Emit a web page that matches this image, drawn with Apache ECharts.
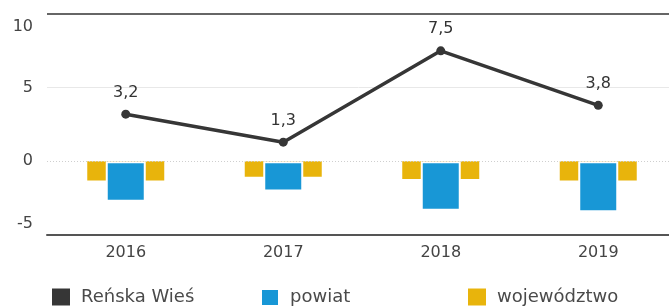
<!DOCTYPE html>
<html>
<head>
<meta charset="utf-8">
<script src="https://cdn.jsdelivr.net/npm/echarts@6/dist/echarts.min.js"></script>
<style>
  html, body { margin: 0; padding: 0; background: #fff; }
  #chart { width: 669px; height: 307px; }
</style>
</head>
<body>
<div id="chart"></div>
<script>
// data
const years = ['2016', '2017', '2018', '2019']
const renskaWies = [3.2, 1.3, 7.5, 3.8]
const powiat = [-2.75, -2.05, -3.35, -3.45]
const wojewodztwo = [-1.3, -1.05, -1.2, -1.3]
const yTicks = { min: -5, max: 10, interval: 5 }

const font = 'DejaVu Sans'
const comma = v => String(v).replace('.', ',')

const chart = echarts.init(document.getElementById('chart'))

function legendAt(name, left) {
  return {
    data: [name],
    left: left,
    top: 283,
    icon: 'rect',
    itemWidth: 18,
    itemHeight: 17,
    selectedMode: false,
    textStyle: { fontFamily: font, fontSize: 18, color: '#4a4a4a', padding: [0, 0, 0, 6] }
  }
}

chart.setOption({
  animation: false,
  grid: { left: 47, right: -8, top: 14, bottom: 72, containLabel: false, outerBoundsMode: 'none' },
  legend: [
    legendAt('Reńska Wieś', 47),
    legendAt('powiat', 255),
    legendAt('województwo', 463)
  ],
  xAxis: [
    {
      type: 'category',
      data: years,
      axisLine: { onZero: false, lineStyle: { color: '#555', width: 2 } },
      axisTick: { show: false },
      axisLabel: { fontFamily: font, fontSize: 16, color: '#444', margin: 10 }
    },
    {
      type: 'category',
      data: years,
      show: false
    }
  ],
  yAxis: {
    type: 'value',
    min: yTicks.min,
    max: yTicks.max,
    interval: yTicks.interval,
    axisLine: { show: false },
    axisTick: { show: false },
    axisLabel: {
      fontFamily: font,
      fontSize: 16,
      color: '#444',
      margin: 14,
      verticalAlignMaxLabel: 'top',
      verticalAlignMinLabel: 'bottom',
      formatter: v => (v === yTicks.max ? '{max|' + v + '}' : v === yTicks.min ? '{min|' + v + '}' : String(v)),
      rich: {
        max: { fontFamily: font, fontSize: 16, color: '#444', padding: [5, 0, 0, 0] },
        min: { fontFamily: font, fontSize: 16, color: '#444', padding: [0, 0, 3, 0] }
      }
    },
    splitLine: {
      lineStyle: { color: ['transparent', 'transparent', '#e8e8e8', 'transparent'], width: 1 }
    }
  },
  series: [
    {
      name: 'województwo',
      type: 'bar',
      xAxisIndex: 1,
      data: wojewodztwo,
      barWidth: 77,
      itemStyle: { color: '#e8b40c' },
      z: 2
    },
    {
      name: 'powiat',
      type: 'bar',
      data: powiat,
      barWidth: 40,
      itemStyle: { color: '#1897d6', borderColor: '#fff', borderWidth: 2 },
      z: 3
    },
    {
      name: 'Reńska Wieś',
      type: 'line',
      data: renskaWies,
      color: '#363636',
      symbol: 'circle',
      symbolSize: 9,
      lineStyle: { color: '#363636', width: 3.5 },
      itemStyle: { color: '#363636' },
      label: {
        show: true,
        position: 'top',
        distance: 9,
        fontFamily: font,
        fontSize: 16,
        color: '#333',
        formatter: p => comma(p.value)
      },
      markLine: {
        silent: true,
        symbol: 'none',
        label: { show: false },
        data: [
          { yAxis: yTicks.max, lineStyle: { color: '#666', width: 2, type: 'solid' } },
          { yAxis: 0, lineStyle: { color: '#cfcfcf', width: 1, type: [1, 2] } }
        ]
      },
      z: 5
    }
  ]
})
</script>
</body>
</html>
